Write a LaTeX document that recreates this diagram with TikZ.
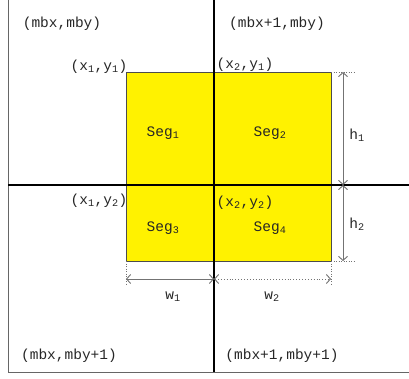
\documentclass[tikz,border=0pt]{standalone}
\usepackage{fontspec}
\setmainfont{Liberation Mono}
\usetikzlibrary{arrows.meta}
\begin{document}
\begin{tikzpicture}[x=1pt,y=-1pt,
  lbl/.style={font=\fontsize{14.5}{16}\selectfont, inner sep=0pt, text=black!85},
  axis/.style={line width=1.3pt, black},
  frame/.style={line width=1pt, black!60},
  dimline/.style={line width=0.9pt, black!55, {Straight Barb[length=4pt,width=9pt]}-{Straight Barb[length=4pt,width=9pt]}},
  extline/.style={line width=0.5pt, black!55, dotted},
  seg/.style={fill=yellow, draw=black!70, line width=0.6pt}]
\useasboundingbox (0,0) rectangle (409,379);
% yellow segments
\draw[seg] (126,72) rectangle (331,261);
% frame
\draw[frame] (8,0) -- (8,372) -- (409,372);
% axes
\coordinate (vt) at (214,0);
\coordinate (vb) at (214,372);
\coordinate (hl) at (8,185);
\coordinate (hr) at (409,185);
\draw[axis] (vt) -- (vb);
\draw[axis] (hl) -- (hr);
% extension lines
\coordinate (tr) at (331,72);
\coordinate (br) at (331,261);
\coordinate (bl) at (126,261);
\coordinate (trx) at (354,72);
\coordinate (brx) at (354,261);
\coordinate (blx) at (126,285);
\coordinate (bry) at (331,285);
\draw[extline] (tr) -- (trx);
\draw[extline] (br) -- (brx);
\draw[extline] (bl) -- (blx);
\draw[extline] (br) -- (bry);
% dimension arrows
\coordinate (h0) at (343,72);
\coordinate (hm) at (343,185);
\coordinate (h2) at (343,261);
\draw[dimline] (h0) -- (hm);
\draw[dimline] (hm) -- (h2);
\coordinate (w0) at (126,279);
\coordinate (wm) at (214,279);
\coordinate (w2) at (331,279);
\draw[dimline] (w0) -- (wm);
\draw[dimline, dotted] (wm) -- (w2);
% labels
\node[lbl] (mbxy) at (62,24) {(mbx,mby)};
\node[lbl] (mbx1y) at (277,24) {(mbx+1,mby)};
\node[lbl] (mbxy1) at (69,356) {(mbx,mby+1)};
\node[lbl] (mbx1y1) at (282,356) {(mbx+1,mby+1)};
\node[lbl] (p11) at (99,67) {(x\textsubscript{1},y\textsubscript{1})};
\node[lbl] (p21) at (245,65) {(x\textsubscript{2},y\textsubscript{1})};
\node[lbl] (p12) at (99,201) {(x\textsubscript{1},y\textsubscript{2})};
\node[lbl] (p22) at (245,203) {(x\textsubscript{2},y\textsubscript{2})};
\node[lbl] (s1) at (163,133) {Seg\textsubscript{1}};
\node[lbl] (s2) at (270,133) {Seg\textsubscript{2}};
\node[lbl] (s3) at (163,228) {Seg\textsubscript{3}};
\node[lbl] (s4) at (270,228) {Seg\textsubscript{4}};
\node[lbl] (w1l) at (173,297) {w\textsubscript{1}};
\node[lbl] (w2l) at (272,297) {w\textsubscript{2}};
\node[lbl] (h1l) at (357,135) {h\textsubscript{1}};
\node[lbl] (h2l) at (357,224) {h\textsubscript{2}};
\end{tikzpicture}
\end{document}
